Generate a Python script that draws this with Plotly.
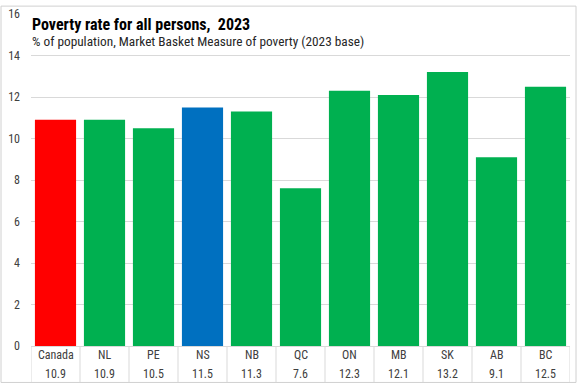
import plotly.graph_objects as go

categories = ["Canada", "NL", "PE", "NS", "NB", "QC", "ON", "MB", "SK", "AB", "BC"]
values = [10.9, 10.9, 10.5, 11.5, 11.3, 7.6, 12.3, 12.1, 13.2, 9.1, 12.5]
bar_colors = ["#FF0000", "#00B050", "#00B050", "#0070C0", "#00B050", "#00B050",
              "#00B050", "#00B050", "#00B050", "#00B050", "#00B050"]
y_ticks = [0, 2, 4, 6, 8, 10, 12, 14, 16]

W, H = 577, 385
L, R, T, B = 31, 7, 9, 39
pw, ph = W - L - R, H - T - B

def px_x(px):
    return (px - L) / pw

def px_y(py):
    return (H - B - py) / ph

FONT = "Liberation Sans Narrow, Roboto Condensed, Arial Narrow, sans-serif"
GRID = "#D9D9D9"
TXT = "#404040"

fig = go.Figure(go.Bar(x=categories, y=values, marker_color=bar_colors,
                       marker_line_width=0, hoverinfo="x+y"))

shapes = []
# table vertical separators
for i in range(len(categories) + 1):
    shapes.append(dict(type="line", xref="x", yref="paper", x0=i - 0.5, x1=i - 0.5,
                       y0=0, y1=px_y(383), line=dict(color=GRID, width=1)))
# chart border (four sides)
bx0, bx1, by0, by1 = px_x(1), px_x(576), px_y(383), px_y(1)
for (a0, a1, b0, b1) in [(bx0, bx1, by1, by1), (bx0, bx1, by0, by0),
                         (bx0, bx0, by0, by1), (bx1, bx1, by0, by1)]:
    shapes.append(dict(type="line", xref="paper", yref="paper",
                       x0=a0, x1=a1, y0=b0, y1=b1, layer="above",
                       line=dict(color="#D0D0D0", width=1)))

annotations = []
for c, v in zip(categories, values):
    annotations.append(dict(x=c, xref="x", yref="paper", y=px_y(355), text=c,
                            showarrow=False, yanchor="middle",
                            font=dict(family=FONT, size=12, color=TXT)))
    annotations.append(dict(x=c, xref="x", yref="paper", y=px_y(374), text=f"{v:.1f}",
                            showarrow=False, yanchor="middle",
                            font=dict(family=FONT, size=12, color=TXT)))

annotations.append(dict(xref="paper", yref="paper", x=px_x(30), y=px_y(20),
                        xanchor="left", yanchor="middle", showarrow=False,
                        text="<b>Poverty rate for all persons,  2023</b>",
                        font=dict(family=FONT, size=16, color="#000000")))
annotations.append(dict(xref="paper", yref="paper", x=px_x(30), y=px_y(37),
                        xanchor="left", yanchor="middle", showarrow=False,
                        text="% of population, Market Basket Measure of poverty (2023 base)",
                        font=dict(family=FONT, size=13.3, color="#262626")))

fig.update_layout(
    width=W, height=H,
    margin=dict(l=L, r=R, t=T, b=B, pad=0),
    paper_bgcolor="white", plot_bgcolor="white",
    bargap=0.16,
    showlegend=False,
    font=dict(family=FONT, size=12, color=TXT),
    xaxis=dict(showticklabels=False, showgrid=False, showline=True,
               linecolor=GRID, linewidth=1, ticks="", zeroline=False,
               range=[-0.5, len(categories) - 0.5]),
    yaxis=dict(range=[0, 16], tickvals=y_ticks, showgrid=True, gridcolor=GRID,
               gridwidth=1, zeroline=False, showline=False, ticks="",
               tickfont=dict(family=FONT, size=12, color=TXT), ticklabelstandoff=10),
    shapes=shapes,
    annotations=annotations,
)

fig.write_html("out.html", config={"displayModeBar": False},
               post_script="document.body.style.margin='0';document.body.style.overflow='hidden';")
